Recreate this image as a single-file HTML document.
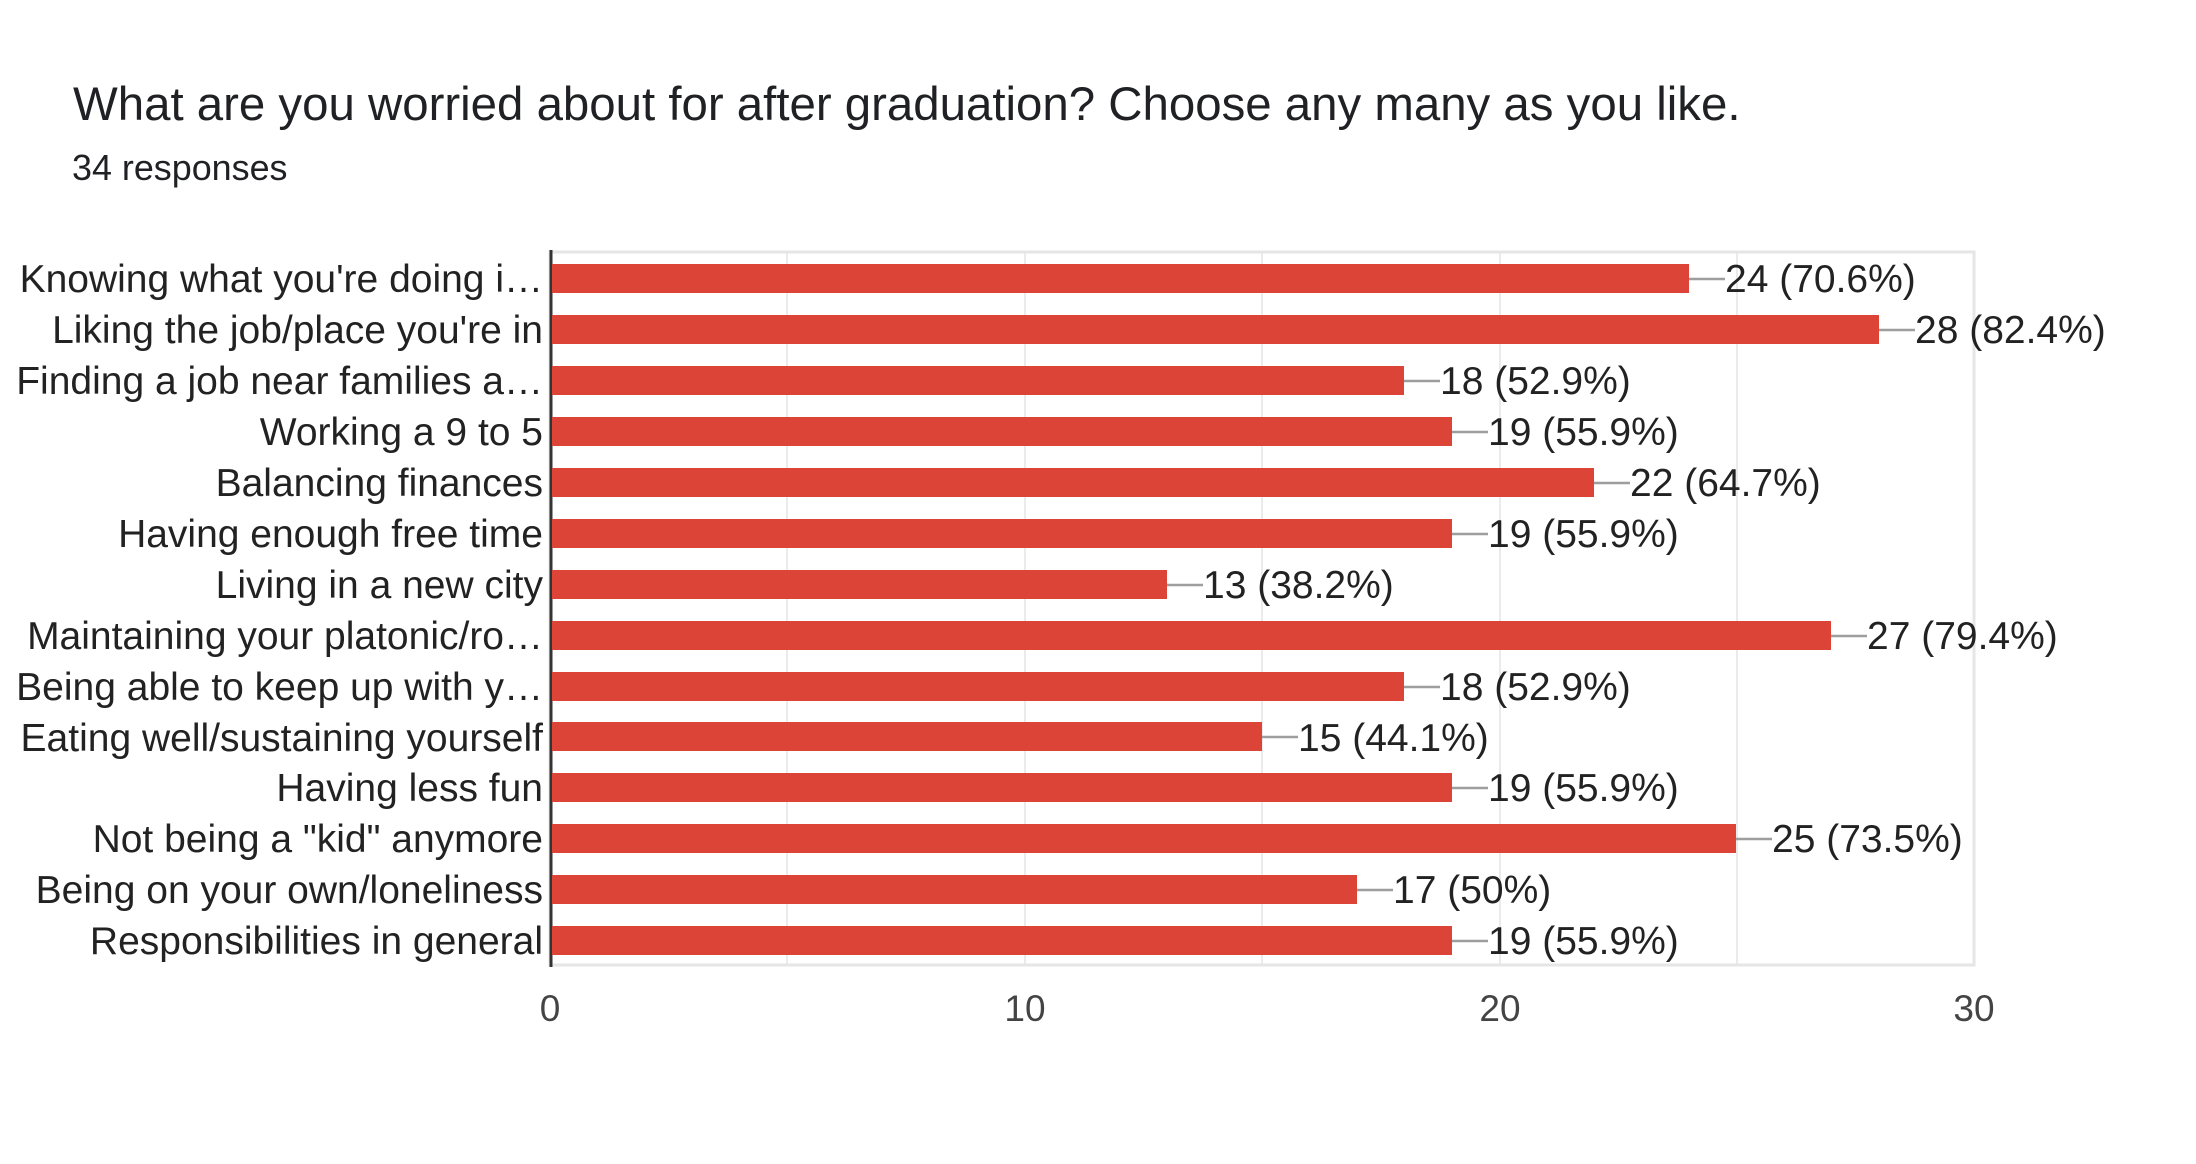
<!DOCTYPE html>
<html><head><meta charset="utf-8"><style>
html,body{margin:0;padding:0;background:#fff;}
svg{display:block;font-family:"Liberation Sans",Arial,sans-serif;}
</style></head><body>
<svg width="2196" height="1164" xmlns="http://www.w3.org/2000/svg">
<text x="73" y="120" font-size="47.4" fill="#202124">What are you worried about for after graduation? Choose any many as you like.</text>
<text x="72" y="180" font-size="35.9" fill="#202124">34 responses</text>
<g stroke="#ebebeb" stroke-width="2">
<line x1="787" y1="252" x2="787" y2="965"/>
<line x1="1025" y1="252" x2="1025" y2="965"/>
<line x1="1262" y1="252" x2="1262" y2="965"/>
<line x1="1500" y1="252" x2="1500" y2="965"/>
<line x1="1737" y1="252" x2="1737" y2="965"/>
</g>
<rect x="550" y="252" width="1424" height="713" fill="none" stroke="#e6e6e6" stroke-width="3"/>
<line x1="551" y1="250" x2="551" y2="967" stroke="#333" stroke-width="3"/>
<g font-size="37" fill="#444" text-anchor="middle">
<text x="550" y="1021">0</text><text x="1025" y="1021">10</text><text x="1500" y="1021">20</text><text x="1974" y="1021">30</text>
</g>
<g font-size="39" fill="#222">
<text x="543" y="292" text-anchor="end">Knowing what you're doing i…</text>
<text x="543" y="343" text-anchor="end">Liking the job/place you're in</text>
<text x="543" y="394" text-anchor="end">Finding a job near families a…</text>
<text x="543" y="445" text-anchor="end">Working a 9 to 5</text>
<text x="543" y="496" text-anchor="end">Balancing finances</text>
<text x="543" y="547" text-anchor="end">Having enough free time</text>
<text x="543" y="598" text-anchor="end">Living in a new city</text>
<text x="543" y="649" text-anchor="end">Maintaining your platonic/ro…</text>
<text x="543" y="700" text-anchor="end">Being able to keep up with y…</text>
<text x="543" y="751" text-anchor="end">Eating well/sustaining yourself</text>
<text x="543" y="801" text-anchor="end">Having less fun</text>
<text x="543" y="852" text-anchor="end">Not being a "kid" anymore</text>
<text x="543" y="903" text-anchor="end">Being on your own/loneliness</text>
<text x="543" y="954" text-anchor="end">Responsibilities in general</text>
</g>
<g fill="#db4437">
<rect x="552" y="264" width="1137" height="29"/>
<rect x="552" y="315" width="1327" height="29"/>
<rect x="552" y="366" width="852" height="29"/>
<rect x="552" y="417" width="900" height="29"/>
<rect x="552" y="468" width="1042" height="29"/>
<rect x="552" y="519" width="900" height="29"/>
<rect x="552" y="570" width="615" height="29"/>
<rect x="552" y="621" width="1279" height="29"/>
<rect x="552" y="672" width="852" height="29"/>
<rect x="552" y="722" width="710" height="29"/>
<rect x="552" y="773" width="900" height="29"/>
<rect x="552" y="824" width="1184" height="29"/>
<rect x="552" y="875" width="805" height="29"/>
<rect x="552" y="926" width="900" height="29"/>
</g>
<g stroke="#9e9e9e" stroke-width="2.5">
<line x1="1689" y1="279" x2="1725" y2="279"/>
<line x1="1879" y1="330" x2="1915" y2="330"/>
<line x1="1404" y1="381" x2="1440" y2="381"/>
<line x1="1452" y1="432" x2="1488" y2="432"/>
<line x1="1594" y1="483" x2="1630" y2="483"/>
<line x1="1452" y1="534" x2="1488" y2="534"/>
<line x1="1167" y1="585" x2="1203" y2="585"/>
<line x1="1831" y1="636" x2="1867" y2="636"/>
<line x1="1404" y1="687" x2="1440" y2="687"/>
<line x1="1262" y1="737" x2="1298" y2="737"/>
<line x1="1452" y1="788" x2="1488" y2="788"/>
<line x1="1736" y1="839" x2="1772" y2="839"/>
<line x1="1357" y1="890" x2="1393" y2="890"/>
<line x1="1452" y1="941" x2="1488" y2="941"/>
</g>
<g font-size="39" fill="#222">
<text x="1725" y="292">24 (70.6%)</text>
<text x="1915" y="343">28 (82.4%)</text>
<text x="1440" y="394">18 (52.9%)</text>
<text x="1488" y="445">19 (55.9%)</text>
<text x="1630" y="496">22 (64.7%)</text>
<text x="1488" y="547">19 (55.9%)</text>
<text x="1203" y="598">13 (38.2%)</text>
<text x="1867" y="649">27 (79.4%)</text>
<text x="1440" y="700">18 (52.9%)</text>
<text x="1298" y="751">15 (44.1%)</text>
<text x="1488" y="801">19 (55.9%)</text>
<text x="1772" y="852">25 (73.5%)</text>
<text x="1393" y="903">17 (50%)</text>
<text x="1488" y="954">19 (55.9%)</text>
</g>
</svg>
</body></html>
